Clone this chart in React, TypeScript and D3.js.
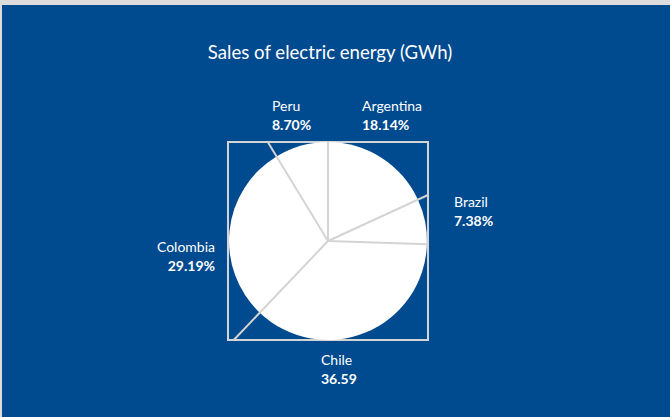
import React from "react";
import * as d3 from "d3";

const countries = ["Argentina", "Brazil", "Chile", "Colombia", "Peru"];
const shares = [18.14, 7.38, 36.59, 29.19, 8.7];
const valueLabels = ["18.14%", "7.38%", "36.59", "29.19%", "8.70%"];
const title = "Sales of electric energy (GWh)";

const W = 670;
const H = 417;
const cx = 328;
const cy = 241;
const r = 99;
const box = { x0: 228, y0: 142, x1: 428, y1: 340 };

// label anchors: [x, nameBaseline, anchor]
const labelPos: Record<string, [number, number, string]> = {
  Argentina: [362, 111, "start"],
  Brazil: [454, 207, "start"],
  Chile: [321, 365, "start"],
  Colombia: [215, 252, "end"],
  Peru: [272, 111, "start"],
};

function rayToBox(angle: number): [number, number] {
  const dx = Math.sin(angle);
  const dy = -Math.cos(angle);
  const ts: number[] = [];
  if (dx > 1e-9) ts.push((box.x1 - cx) / dx);
  if (dx < -1e-9) ts.push((box.x0 - cx) / dx);
  if (dy > 1e-9) ts.push((box.y1 - cy) / dy);
  if (dy < -1e-9) ts.push((box.y0 - cy) / dy);
  const t = Math.min(...ts);
  return [cx + dx * t, cy + dy * t];
}

export default function App() {
  const data = countries.map((c, i) => ({ name: c, value: shares[i], label: valueLabels[i] }));
  const pie = d3.pie<any>().sort(null).value((d: any) => d.value);
  const arcs = pie(data);
  const arc = d3.arc<any>().innerRadius(0).outerRadius(r);
  const font = "Lato, 'Open Sans', sans-serif";

  return (
    <div style={{ position: "fixed", left: 0, top: 0 }}>
      <svg width={W} height={H} style={{ display: "block" }}>
        <rect x={0} y={0} width={W} height={H} fill="#dcdcdc" />
        <rect x={2} y={5} width={W - 2} height={H - 5} fill="#004a8f" />
        <text x={330} y={59} textAnchor="middle" fill="#ffffff" fontFamily={font} fontSize={18.6}>
          {title}
        </text>
        <rect
          x={box.x0}
          y={box.y0}
          width={box.x1 - box.x0}
          height={box.y1 - box.y0}
          fill="none"
          stroke="#d4d4d4"
          strokeWidth={2}
        />
        <g transform={`translate(${cx},${cy})`}>
          {arcs.map((a, i) => (
            <path key={i} d={arc(a) as string} fill="#ffffff" />
          ))}
        </g>
        {arcs.map((a, i) => {
          const [x2, y2] = rayToBox(a.startAngle);
          return (
            <line key={"l" + i} x1={cx} y1={cy} x2={x2} y2={y2} stroke="#d4d4d4" strokeWidth={2} />
          );
        })}
        {data.map((d) => {
          const [x, y, anchor] = labelPos[d.name];
          return (
            <g key={"t" + d.name} fontFamily={font} fill="#ffffff" textAnchor={anchor as any}>
              <text x={x} y={y} fontSize={14}>
                {d.name}
              </text>
              <text x={x} y={y + 19} fontSize={14} fontWeight="bold">
                {d.label}
              </text>
            </g>
          );
        })}
      </svg>
    </div>
  );
}
